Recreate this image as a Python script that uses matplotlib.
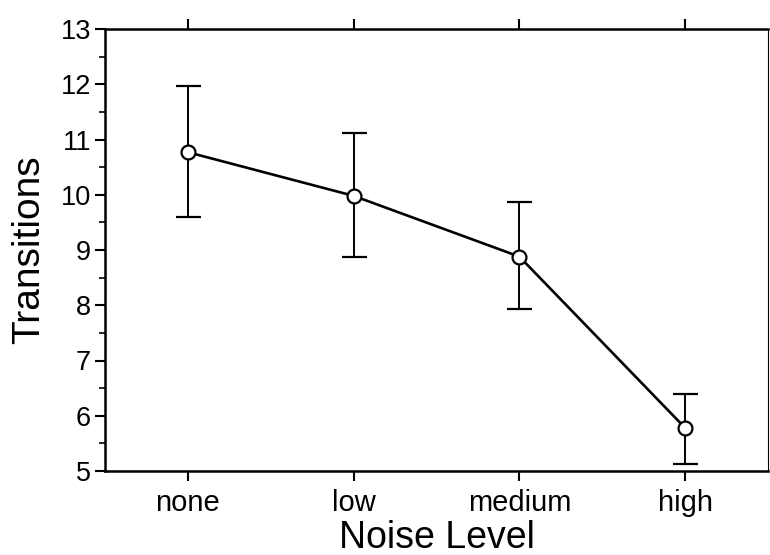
import matplotlib
matplotlib.use("Agg")
import matplotlib.pyplot as plt
from matplotlib.ticker import MultipleLocator

plt.rcParams['font.family'] = ['Liberation Sans', 'DejaVu Sans']

categories = ["none", "low", "medium", "high"]
means = [10.77, 9.98, 8.88, 5.78]
upper = [11.96, 11.12, 9.87, 6.39]
lower = [9.59, 8.87, 7.94, 5.13]

x = list(range(len(categories)))
yerr = [[m - l for m, l in zip(means, lower)], [u - m for m, u in zip(means, upper)]]

fig = plt.figure(figsize=(7.7, 5.55), dpi=100)
ax = fig.add_axes([105/770, 1 - 471/555, (768-105)/770, (471-29)/555])

ax.errorbar(x, means, yerr=yerr, fmt='none', ecolor='black', elinewidth=1.4,
            capsize=9, capthick=1.6, zorder=2)
ax.plot(x, means, color='black', lw=1.9, marker='o', markersize=10,
        markerfacecolor='white', markeredgecolor='black', markeredgewidth=1.6, zorder=3)

ax.set_xlim(-0.5, 3.5)
ax.set_ylim(5, 13)
ax.set_xticks(x)
ax.set_xticklabels(categories, fontsize=21)
ax.yaxis.set_major_locator(MultipleLocator(1))
ax.yaxis.set_minor_locator(MultipleLocator(0.5))
ax.tick_params(axis='y', which='major', labelsize=19.5, direction='out', length=7, width=1.5, pad=3)
ax.tick_params(axis='y', which='minor', direction='out', length=4, width=1.2)
ax.tick_params(axis='x', which='major', direction='out', length=7, width=1.5, pad=6, top=True)

for s in ['left', 'bottom', 'top']:
    ax.spines[s].set_linewidth(1.8)
ax.spines['right'].set_linewidth(0.8)

ax.set_ylabel("Transitions", fontsize=28, labelpad=10)
ax.set_xlabel("Noise Level", fontsize=27, labelpad=2)

fig.savefig("out.png", dpi=100)
